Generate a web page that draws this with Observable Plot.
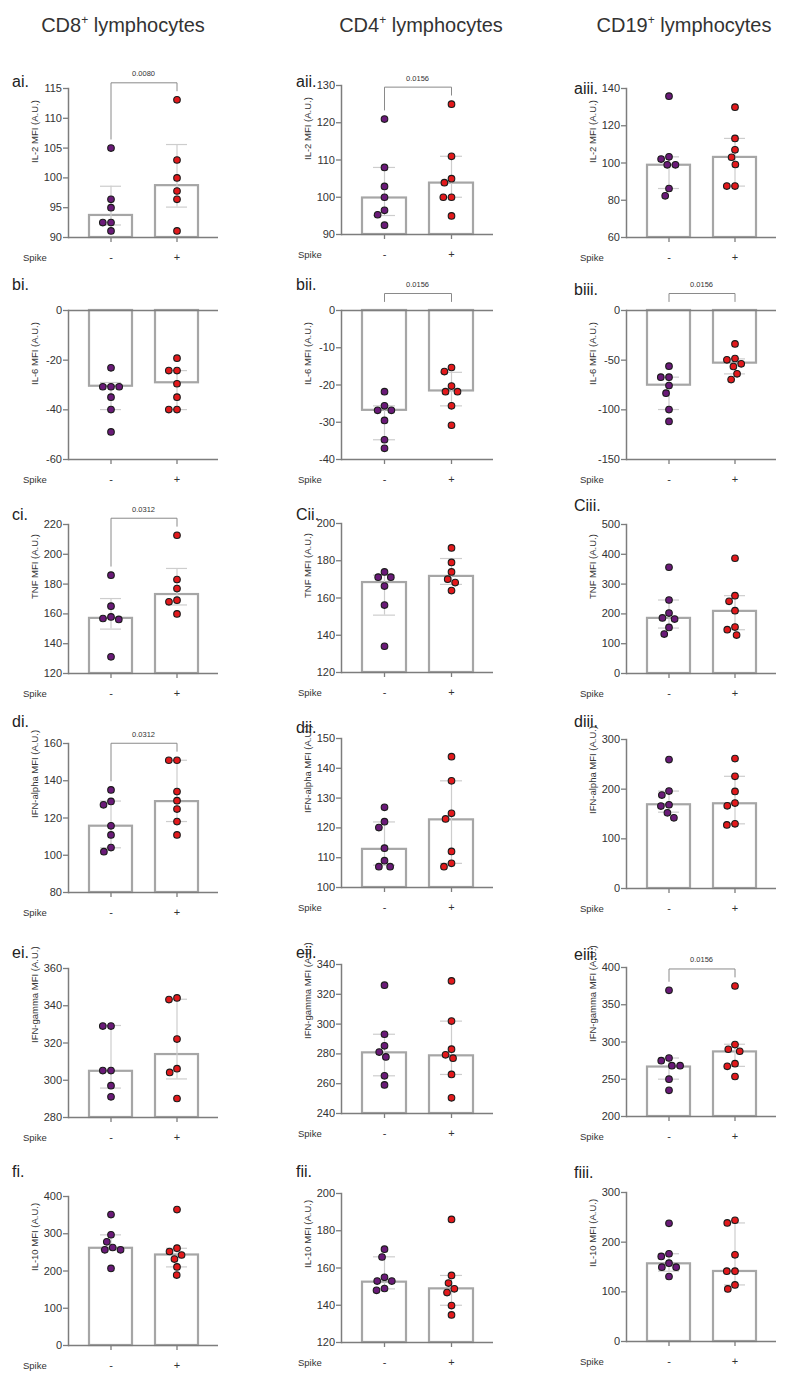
<!DOCTYPE html>
<html><head><meta charset="utf-8">
<script src="https://cdn.jsdelivr.net/npm/d3@7"></script>
<script src="https://cdn.jsdelivr.net/npm/@observablehq/plot@0.6"></script>
<style>
body{margin:0;background:#fff;}
#root{position:relative;width:788px;height:1386px;font-family:"Liberation Sans",Arial,Helvetica,sans-serif;color:#333;overflow:hidden;background:#fff;}
.title{position:absolute;font-size:20px;line-height:20px;white-space:nowrap;transform:translateX(-50%);color:#333;}
.title sup{font-size:12px;line-height:0;vertical-align:0;position:relative;top:-8px;}
.plabel{position:absolute;font-size:16px;line-height:16px;color:#222;white-space:nowrap;}
.spike{position:absolute;font-size:9.5px;line-height:10px;color:#333;}
.panel{position:absolute;}
.panel svg{position:absolute;left:0;top:0;overflow:visible;}
</style></head><body><div id="root"></div>
<script>
// ---------------- data ----------------
const groups = ["-", "+"];
const cellTypes = ["CD8", "CD4", "CD19"];
const panelLabels = [
  ["ai.", "aii.", "aiii."], ["bi.", "bii.", "biii."], ["ci.", "Cii.", "Ciii."],
  ["di.", "dii.", "diii."], ["ei.", "eii.", "eiii."], ["fi.", "fii.", "fiii."]
];
const yLabels = ["IL-2 MFI (A.U.)", "IL-6 MFI (A.U.)", "TNF MFI (A.U.)",
  "IFN-alpha MFI (A.U.)", "IFN-gamma MFI (A.U.)", "IL-10 MFI (A.U.)"];
const yDomains = [
  [[90, 115], [90, 130], [60, 140]],
  [[-60, 0], [-40, 0], [-150, 0]],
  [[120, 220], [120, 200], [0, 500]],
  [[80, 160], [100, 150], [0, 300]],
  [[280, 360], [240, 340], [200, 400]],
  [[0, 400], [120, 200], [0, 300]]
];
const yTicks = [
  [[90, 95, 100, 105, 110, 115], [90, 100, 110, 120, 130], [60, 80, 100, 120, 140]],
  [[-60, -40, -20, 0], [-40, -30, -20, -10, 0], [-150, -100, -50, 0]],
  [[120, 140, 160, 180, 200, 220], [120, 140, 160, 180, 200], [0, 100, 200, 300, 400, 500]],
  [[80, 100, 120, 140, 160], [100, 110, 120, 130, 140, 150], [0, 100, 200, 300]],
  [[280, 300, 320, 340, 360], [240, 260, 280, 300, 320, 340], [200, 250, 300, 350, 400]],
  [[0, 100, 200, 300, 400], [120, 140, 160, 180, 200], [0, 100, 200, 300]]
];
// individual donors, Spike -
const pointsMinus = [
  [[105.0, 96.4, 95.0, 92.5, 92.5, 91.1], [121.0, 108.0, 102.9, 100.0, 96.5, 95.3, 92.5], [135.9, 103.3, 102.1, 99.0, 99.0, 86.3, 82.4]],
  [[-23.1, -30.7, -30.7, -30.7, -34.9, -39.9, -48.9], [-21.8, -25.6, -26.8, -26.8, -29.5, -34.7, -37.0], [-56.0, -67.1, -67.1, -75.5, -83.2, -99.7, -111.7]],
  [[186.0, 165.2, 158.0, 156.9, 156.3, 131.2], [174.0, 171.2, 171.2, 166.4, 156.2, 134.1], [356.5, 246.6, 202.9, 186.4, 182.8, 154.7, 132.3]],
  [[135.1, 128.9, 127.1, 115.8, 110.9, 104.1, 101.9], [126.9, 122.1, 120.1, 113.2, 109.0, 107.0, 107.0], [259.6, 196.2, 188.1, 168.6, 165.9, 152.4, 142.3]],
  [[329.1, 329.1, 305.2, 305.2, 297.1, 291.1], [326.1, 293.2, 285.4, 281.2, 278.0, 265.3, 259.2], [369.3, 278.5, 275.0, 268.2, 268.2, 250.1, 235.2]],
  [[351.4, 297.3, 278.4, 263.1, 256.8, 256.8, 207.0], [170.1, 165.9, 155.0, 153.0, 153.0, 149.0, 148.0], [238.0, 176.7, 171.3, 157.8, 149.7, 149.7, 130.9]]
];
// individual donors, Spike +
const pointsPlus = [
  [[113.1, 103.0, 100.0, 97.8, 96.4, 91.1], [125.0, 111.0, 105.0, 103.9, 100.0, 100.0, 95.0], [130.0, 113.2, 107.1, 103.1, 99.2, 87.6, 87.6]],
  [[-19.2, -24.2, -24.2, -29.5, -34.9, -39.9, -39.9], [-15.3, -16.4, -20.3, -21.8, -21.8, -25.6, -30.8], [-33.6, -48.3, -49.7, -53.7, -56.4, -63.8, -69.5]],
  [[212.8, 183.1, 177.0, 169.2, 168.1, 160.0], [186.9, 179.1, 174.0, 170.1, 168.3, 164.0], [386.8, 261.2, 242.2, 210.8, 155.9, 146.9, 128.9]],
  [[151.0, 151.0, 134.2, 129.3, 124.8, 118.1, 110.9], [143.9, 135.8, 124.9, 123.0, 112.1, 108.1, 107.0], [261.6, 225.9, 195.5, 171.9, 166.5, 130.2, 128.1]],
  [[344.2, 343.3, 322.1, 306.2, 304.2, 290.2], [329.0, 302.0, 283.2, 279.4, 277.1, 266.2, 250.5], [375.2, 296.6, 290.3, 287.6, 270.9, 267.3, 253.7]],
  [[364.9, 261.3, 252.3, 243.0, 232.0, 211.0, 189.0], [186.1, 156.0, 151.9, 148.8, 146.8, 139.8, 134.8], [244.1, 238.7, 174.6, 141.6, 141.6, 113.9, 105.9]]
];
// bar heights [Spike -, Spike +]
const medians = [
  [[93.7, 98.7], [99.8, 103.8], [98.8, 103.0]],
  [[-30.5, -29.1], [-26.8, -21.6], [-75.2, -53.0]],
  [[157.0, 173.0], [168.3, 171.6], [185.0, 208.5]],
  [[115.6, 128.8], [112.8, 122.7], [168.6, 170.6]],
  [[304.8, 313.8], [280.7, 278.7], [266.4, 286.7]],
  [[261.0, 243.0], [152.4, 148.8], [156.4, 141.0]]
];
const errLow = [
  [[92.1, 95.1], [95.1, 100.0], [86.3, 87.6]],
  [[-39.9, -39.9], [-34.7, -25.6], [-99.7, -63.8]],
  [[149.8, 166.0], [150.8, 167.3], [152.5, 146.9]],
  [[104.0, 118.1], [107.5, 108.1], [153.7, 130.2]],
  [[295.8, 300.7], [265.3, 266.2], [250.1, 267.3]],
  [[257.0, 211.0], [148.8, 140.0], [141.6, 113.9]]
];
const errHigh = [
  [[98.6, 105.6], [108.0, 111.0], [103.3, 113.2]],
  [[-29.0, -24.2], [-25.6, -16.6], [-67.1, -48.7]],
  [[170.3, 190.5], [172.3, 181.2], [246.6, 261.2]],
  [[129.1, 151.0], [122.0, 135.8], [196.2, 225.9]],
  [[329.4, 343.5], [293.2, 302.0], [278.5, 297.0]],
  [[297.0, 261.0], [166.0, 156.0], [176.7, 238.7]]
];
const pValues = [
  ["0.0080", "0.0156", null],
  [null, "0.0156", "0.0156"],
  ["0.0312", null, null],
  ["0.0312", null, null],
  [null, null, "0.0156"],
  [null, null, null]
];

// ---------------- layout ----------------
const colAxisX = [68, 341, 626];
const colPlotW = [150, 152, 150];
const rowTops = [[88, 85, 88], [310, 310, 310], [524, 523, 524], [743, 738, 739], [968, 964, 967], [1196, 1193, 1192]];
const PH = 149;
const labelBase = [[87, 87, 94], [290, 290, 295], [520, 520, 511], [727, 733, 727], [958, 958, 960], [1177, 1177, 1178]];
const labelX = [12, 296, 574];
const spikeX = [23, 298, 580];
const titleX = [123, 421, 684];
const ML = 64, MR = 12, MT = 44, MB = 34;
const font = '"Liberation Sans", Arial, Helvetica, sans-serif';
const axisColor = "#7d7d7d";
const errColor = "#cdcdcd";
const barStroke = "#a6a6a6";
const dotColors = ["#6a1a78", "#e3191c"];

const root = document.getElementById("root");

cellTypes.forEach((ct, c) => {
  const t = document.createElement("div");
  t.className = "title";
  t.style.left = titleX[c] + "px";
  t.style.top = "15px";
  t.innerHTML = `${ct}<sup>+</sup> lymphocytes`;
  root.appendChild(t);
});

function buildPanel(r, c) {
  const [lo, hi] = yDomains[r][c];
  const W = colPlotW[c];
  const kpx = PH / (hi - lo);
  const base = Math.max(lo, Math.min(hi, 0));
  const byGroup = [pointsMinus[r][c], pointsPlus[r][c]];
  const pts = groups.flatMap((g, j) => byGroup[j].map(v => ({g, v})));
  const stats = groups.map((g, j) => {
    const med = medians[r][c][j];
    return {g, med, low: errLow[r][c][j], high: errHigh[r][c][j],
      top: Math.max(d3.max(byGroup[j]), med, base)};
  });
  const size = {width: ML + W + MR, height: MT + PH + MB,
    marginLeft: ML, marginRight: MR, marginTop: MT, marginBottom: MB};
  const style = {overflow: "visible", background: "transparent", fontFamily: font, color: "#333"};
  const band = {domain: groups, paddingInner: 0.35, paddingOuter: 0.3};

  const marks = [
    Plot.barY(stats, {x: "g", y1: () => base, y2: "med", fill: "white", stroke: barStroke, strokeWidth: 2.2}),
    Plot.ruleX(stats, {x: "g", y1: "low", y2: "high", stroke: errColor, strokeWidth: 1.2}),
    Plot.tickY(stats, {x: "g", y: "low", inset: 11, stroke: errColor, strokeWidth: 1.2}),
    Plot.tickY(stats, {x: "g", y: "high", inset: 11, stroke: errColor, strokeWidth: 1.2}),
    Plot.ruleY([lo], {stroke: axisColor, strokeWidth: 1.5}),
  ];
  if (hi === 0) marks.push(Plot.ruleY([0], {stroke: axisColor, strokeWidth: 1.5}));
  marks.push(
    Plot.frame({anchor: "left", stroke: axisColor, strokeWidth: 1.5}),
    Plot.axisY({ticks: yTicks[r][c], tickFormat: d => String(d), tickSize: 5, tickPadding: 1.5, fontSize: 11, stroke: axisColor, strokeWidth: 1.3, fill: "#333", label: null}),
    Plot.axisX({tickSize: 5, tickPadding: 11, fontSize: 11, stroke: axisColor, strokeWidth: 1.3, fill: "#333", label: null}),
    Plot.text([yLabels[r]], {frameAnchor: "left", rotate: -90, dx: -34, fontSize: 9.5, fill: "#333"})
  );
  const pv = pValues[r][c];
  if (pv) {
    const br = d3.max(stats, d => d.top) + 17 / kpx;
    const path = [
      {g: "-", v: stats[0].top + 9 / kpx}, {g: "-", v: br},
      {g: "+", v: br}, {g: "+", v: stats[1].top + 9 / kpx}
    ];
    marks.push(
      Plot.line(path, {x: "g", y: "v", stroke: "#8a8a8a", strokeWidth: 1}),
      Plot.text([pv], {frameAnchor: "middle", y: () => br, dy: -9, fontSize: 7.5, fill: "#333"})
    );
  }
  const basePlot = Plot.plot({...size, style, x: band, y: {domain: [lo, hi], axis: null}, marks});

  const dotPlot = Plot.plot({
    ...size, style,
    fx: {...band, axis: null},
    y: {domain: [lo, hi], axis: null},
    color: {domain: groups, range: dotColors},
    marks: [
      Plot.dot(pts, Plot.dodgeX({anchor: "middle", padding: 1.6},
        {fx: "g", y: "v", r: 3.3, fill: "g", stroke: "#1b1b1b", strokeWidth: 1.1}))
    ]
  });

  const div = document.createElement("div");
  div.className = "panel";
  div.style.left = (colAxisX[c] - ML) + "px";
  div.style.top = (rowTops[r][c] - MT) + "px";
  div.style.width = size.width + "px";
  div.style.height = size.height + "px";
  div.appendChild(basePlot);
  div.appendChild(dotPlot);
  root.appendChild(div);

  const lab = document.createElement("div");
  lab.className = "plabel";
  lab.style.left = labelX[c] + "px";
  lab.style.top = (labelBase[r][c] - 13.5) + "px";
  lab.textContent = panelLabels[r][c];
  root.appendChild(lab);

  const sp = document.createElement("div");
  sp.className = "spike";
  sp.style.left = spikeX[c] + "px";
  sp.style.top = (rowTops[r][c] + PH + 21 - 5) + "px";
  sp.textContent = "Spike";
  root.appendChild(sp);
}

for (let r = 0; r < 6; r++) for (let c = 0; c < 3; c++) buildPanel(r, c);
</script>
</body></html>
